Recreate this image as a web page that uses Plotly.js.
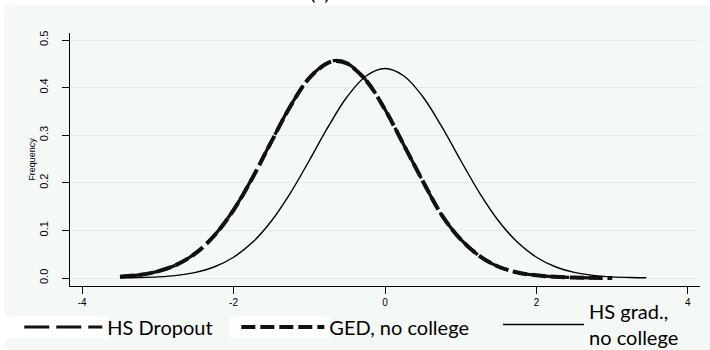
<!DOCTYPE html>
<html>
<head>
<meta charset="utf-8">
<script src="https://cdn.plot.ly/plotly-3.0.1.min.js"></script>
<style>
  html, body { margin: 0; padding: 0; background: #ffffff; }
  #chart { width: 710px; height: 350px; }
</style>
</head>
<body>
<div id="chart"></div>
<script>
// Density curves of the standardized score by schooling group
const xDropout = [-3.5, -3.25, -3.0, -2.75, -2.5, -2.25, -2.0, -1.75, -1.5, -1.25, -1.0, -0.75, -0.64, -0.5, -0.25, 0.0, 0.25, 0.5, 0.75, 1.0, 1.25, 1.5, 1.75, 2.0, 2.25, 2.5, 2.75, 3.0];
const yDropout = [0.0028, 0.0065, 0.0140, 0.0282, 0.0525, 0.0902, 0.1434, 0.2110, 0.2871, 0.3613, 0.4207, 0.4530, 0.4570, 0.4512, 0.4156, 0.3541, 0.2791, 0.2034, 0.1320, 0.0810, 0.0460, 0.0235, 0.0115, 0.0055, 0.0024, 0.0010, 0.0004, 0.0001];

const xGED = [-3.5, -3.25, -3.0, -2.75, -2.5, -2.25, -2.0, -1.75, -1.5, -1.25, -1.0, -0.75, -0.64, -0.5, -0.25, 0.0, 0.25, 0.5, 0.75, 1.0, 1.25, 1.5, 1.75, 2.0, 2.25, 2.5, 2.75, 3.0];
const yGED = [0.0027, 0.0064, 0.0139, 0.0280, 0.0522, 0.0898, 0.1428, 0.2104, 0.2865, 0.3606, 0.4200, 0.4522, 0.4560, 0.4505, 0.4150, 0.3538, 0.2790, 0.2034, 0.1322, 0.0812, 0.0462, 0.0237, 0.0116, 0.0056, 0.0025, 0.0010, 0.0004, 0.0001];

const xGrad = [-3.5, -3.25, -3.0, -2.75, -2.5, -2.25, -2.0, -1.75, -1.5, -1.25, -1.0, -0.75, -0.5, -0.25, 0.0, 0.25, 0.5, 0.75, 1.0, 1.25, 1.5, 1.75, 2.0, 2.25, 2.5, 2.75, 3.0, 3.25, 3.45];
const yGrad = [0.0004, 0.0010, 0.0024, 0.0056, 0.0119, 0.0236, 0.0436, 0.0749, 0.1198, 0.1783, 0.2468, 0.3179, 0.3808, 0.4244, 0.4400, 0.4244, 0.3808, 0.3179, 0.2468, 0.1783, 0.1198, 0.0749, 0.0436, 0.0236, 0.0119, 0.0056, 0.0024, 0.0010, 0.0005];

const seriesNames = ['HS Dropout', 'GED, no college', 'HS grad.,<br>no college'];
const xTicks = [-4, -2, 0, 2, 4];
const yTicks = [0.0, 0.1, 0.2, 0.3, 0.4, 0.5];
const yTickText = ['0.0', '0.1', '0.2', '0.3', '0.4', '0.5'];

const MINT = '#f4f9f6';
const LEGEND_SIZE = 20;
const legendFont = { family: 'Lato, "Open Sans", sans-serif', size: LEGEND_SIZE, color: '#000000' };

// two-line legend label: full-size glyphs on a tighter line pitch
const tightLines = (label) => label.split('<br>')
  .map(s => '<span style="font-size:' + LEGEND_SIZE + 'px">' + s + '</span>')
  .join('<br>');

const traces = [
  {
    x: xDropout, y: yDropout, name: seriesNames[0], type: 'scatter', mode: 'lines',
    line: { color: '#111111', width: 3.2, dash: '25px,7px', shape: 'spline', smoothing: 1 },
    legend: 'legend'
  },
  {
    x: xGED, y: yGED, name: seriesNames[1], type: 'scatter', mode: 'lines',
    line: { color: '#111111', width: 4, dash: '14px,5px', shape: 'spline', smoothing: 1 },
    legend: 'legend2'
  },
  {
    x: xGrad, y: yGrad, name: tightLines(seriesNames[2]), type: 'scatter', mode: 'lines',
    line: { color: '#000000', width: 1.4, shape: 'spline', smoothing: 1 },
    legend: 'legend3'
  }
];

const legendBase = {
  orientation: 'h', bgcolor: 'rgba(0,0,0,0)', borderwidth: 0,
  font: legendFont, xanchor: 'left', yanchor: 'middle', valign: 'middle'
};

const layout = {
  width: 710, height: 350,
  paper_bgcolor: MINT, plot_bgcolor: MINT,
  margin: { l: 70, r: 10, t: 33, b: 64, autoexpand: false },
  showlegend: true,
  title: {
    text: '(a)', font: { family: 'Lato, sans-serif', size: 20, color: '#000000' },
    xref: 'container', x: 0.4507, xanchor: 'center',
    yref: 'container', y: 1, yanchor: 'bottom'
  },
  xaxis: {
    range: [-4.16, 4.16], tickvals: xTicks, ticktext: xTicks.map(String),
    showgrid: false, zeroline: false,
    showline: true, linecolor: '#000000', linewidth: 1,
    ticks: 'outside', ticklen: 7, tickcolor: '#000000', tickwidth: 1,
    tickfont: { family: '"Liberation Sans", Arial, sans-serif', size: 10, color: '#000000' }
  },
  yaxis: {
    range: [-0.0168, 0.5147], tickvals: yTicks, ticktext: yTickText, tickangle: -90,
    showgrid: true, gridcolor: '#e3ebf1', gridwidth: 1, zeroline: false,
    showline: true, linecolor: '#000000', linewidth: 1,
    ticks: 'outside', ticklen: 7, tickcolor: '#000000', tickwidth: 1, ticklabelstandoff: 10,
    tickfont: { family: '"Liberation Sans", Arial, sans-serif', size: 11, color: '#000000' },
    title: { text: 'Frequency', standoff: 0, font: { family: '"Liberation Sans", Arial, sans-serif', size: 9, color: '#000000' } }
  },
  legend: Object.assign({}, legendBase, { x: -0.0805, y: -0.162, itemwidth: 78 }),
  legend2: Object.assign({}, legendBase, { x: 0.264, y: -0.162, itemwidth: 83 }),
  legend3: Object.assign({}, legendBase, { x: 0.6795, y: -0.152, itemwidth: 81 }),
  shapes: [
    // white margin strips along the top and left edges
    { type: 'rect', xref: 'paper', yref: 'paper', layer: 'below',
      x0: -70 / 630, x1: 640 / 630, y0: 1 + 28 / 253, y1: 1 + 33 / 253,
      fillcolor: '#ffffff', line: { width: 0 } },
    { type: 'rect', xref: 'paper', yref: 'paper', layer: 'below',
      x0: -70 / 630, x1: -65 / 630, y0: -64 / 253, y1: 1 + 33 / 253,
      fillcolor: '#ffffff', line: { width: 0 } },
    // white key boxes behind the first two legend samples
    { type: 'rect', xref: 'paper', yref: 'paper', layer: 'below',
      x0: -65 / 630, x1: 38 / 630, y0: -53 / 253, y1: -30 / 253,
      fillcolor: '#ffffff', line: { width: 0 } },
    { type: 'rect', xref: 'paper', yref: 'paper', layer: 'below',
      x0: 160 / 630, x1: 260 / 630, y0: -53 / 253, y1: -30 / 253,
      fillcolor: '#ffffff', line: { width: 0 } }
  ]
};

Plotly.newPlot('chart', traces, layout, { displayModeBar: false, staticPlot: true });
</script>
</body>
</html>
